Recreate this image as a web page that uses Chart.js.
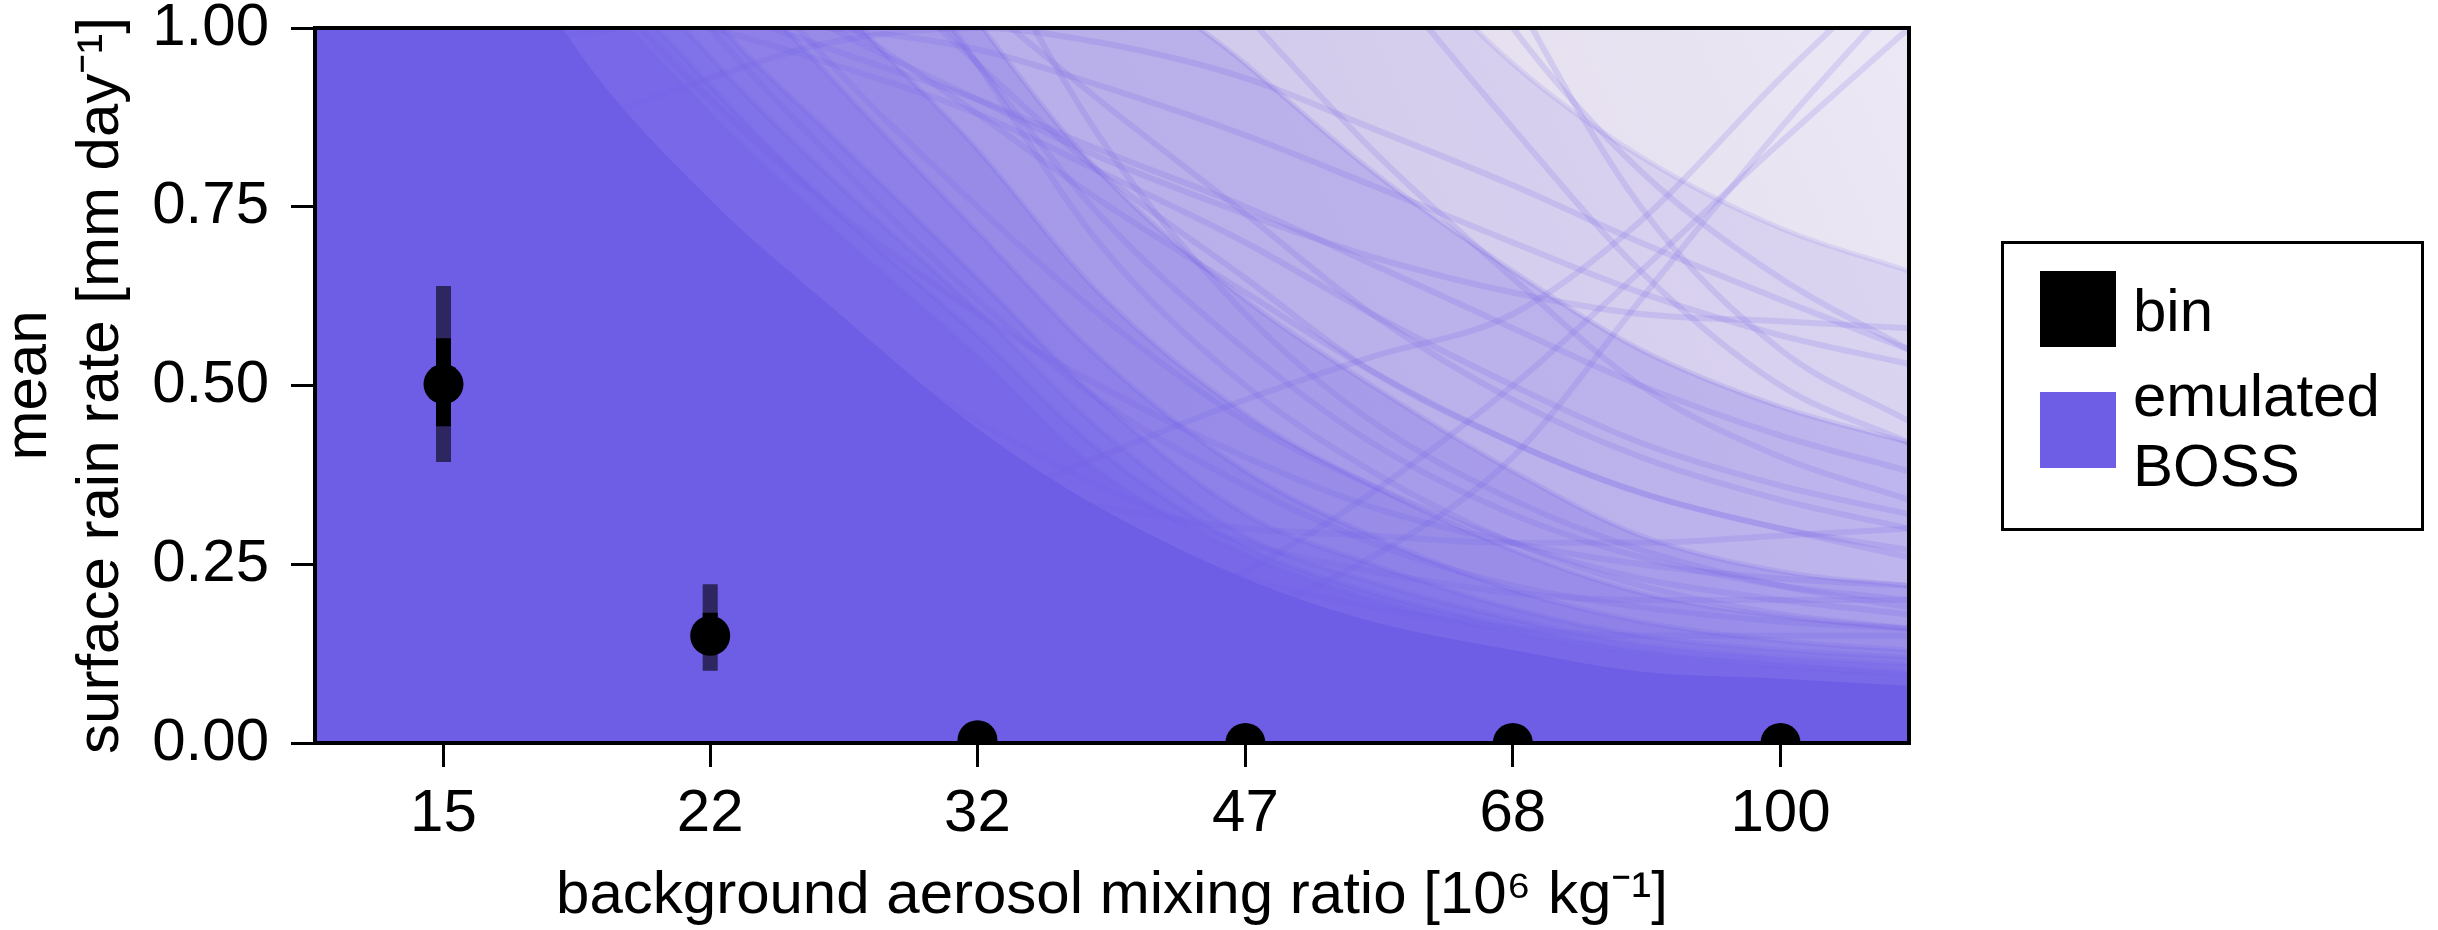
<!DOCTYPE html>
<html>
<head>
<meta charset="utf-8">
<title>Surface rain rate vs background aerosol</title>
<script src="https://cdn.jsdelivr.net/npm/chart.js@4.4.1/dist/chart.umd.min.js"></script>
<style>
  html, body { margin: 0; padding: 0; background: #fff; }
  #wrap { position: relative; width: 2438px; height: 930px; font-family: "Liberation Sans", Arial, Helvetica, sans-serif; }
  #c { position: absolute; left: 0; top: 0; }
  .legend { position: absolute; left: 2001px; top: 241px; width: 423px; height: 290px; box-sizing: border-box; border: 3px solid #000; background: #fff; }
  .sw { position: absolute; width: 76px; height: 76px; }
  .lt { position: absolute; font-size: 60px; line-height: 60px; color: #000; white-space: nowrap; }
</style>
</head>
<body>
<div id="wrap">
  <canvas id="c" width="2438" height="930"></canvas>
  <div class="legend">
    <div class="sw" style="left:36px; top:27px; background:#000;"></div>
    <div class="lt" style="left:129px; top:37px;">bin</div>
    <div class="sw" style="left:36px; top:148px; background:rgb(110,94,230);"></div>
    <div class="lt" style="left:129px; top:122px;">emulated</div>
    <div class="lt" style="left:129px; top:192px;">BOSS</div>
  </div>
</div>
<script>
// ---- binned simulation output ----
const binCentres  = [15, 21.9, 32.0, 46.8, 68.4, 100];
const binLabels   = ['15', '22', '32', '47', '68', '100'];
const binMean     = [0.502, 0.150, 0.004, 0.0, 0.0, 0.0];
const binInnerLo  = [0.443, 0.125, 0.004, 0.0, 0.0, 0.0];
const binInnerHi  = [0.566, 0.182, 0.004, 0.0, 0.0, 0.0];
const binOuterLo  = [0.393, 0.101, 0.004, 0.0, 0.0, 0.0];
const binOuterHi  = [0.639, 0.222, 0.004, 0.0, 0.0, 0.0];
const yTickValues = [0, 0.25, 0.5, 0.75, 1.0];

// ---- emulated BOSS ensemble, sampled on a common aerosol grid ----
const emuX = [12.5, 15, 18, 21.9, 26, 32, 38, 46.8, 56, 68.4, 82, 100, 120];
// region covered by (nearly) every ensemble member
const bossCore = [1.5, 1.3, 0.98, 0.76, 0.61, 0.44, 0.33, 0.23, 0.17, 0.13, 0.10, 0.09, 0.08];
// upper envelopes of the ensemble, from widest to narrowest
const bossBand0 = [2, 2, 2, 2, 2, 1.9, 1.6, 1.35, 1.15, 0.95, 0.82, 0.72, 0.66];
const bossBand1 = [2, 2, 2, 2, 1.7, 1.35, 1.12, 0.95, 0.8, 0.66, 0.55, 0.47, 0.42];
const bossBand2 = [2, 2, 1.8, 1.6, 1.3, 1.01, 0.8, 0.62, 0.5, 0.38, 0.29, 0.24, 0.22];
const bossBand3 = [2, 2, 1.6, 1.3, 1.05, 0.83, 0.63, 0.46, 0.36, 0.27, 0.21, 0.177, 0.16];
const bossBand4 = [2, 1.8, 1.4, 1.12, 0.93, 0.715, 0.54, 0.38, 0.29, 0.214, 0.17, 0.143, 0.13];
const bossBand5 = [1.9, 1.7, 1.3, 1.02, 0.85, 0.65, 0.48, 0.32, 0.25, 0.188, 0.15, 0.13, 0.12];
const bossBand6 = [1.8, 1.6, 1.2, 0.96, 0.79, 0.605, 0.44, 0.289, 0.225, 0.173, 0.138, 0.12, 0.11];
const bossBand7 = [1.7, 1.5, 1.15, 0.92, 0.75, 0.57, 0.41, 0.275, 0.21, 0.163, 0.13, 0.113, 0.10];
const bossBand8 = [1.6, 1.4, 1.1, 0.88, 0.72, 0.54, 0.38, 0.264, 0.2, 0.155, 0.125, 0.107, 0.095];
// individual ensemble members
const bossMember1  = [1.6, 1.45, 1.3, 1.15, 1.02, 0.88, 0.76, 0.63, 0.52, 0.42, 0.35, 0.3, 0.27];
const bossMember2  = [1.8, 1.7, 1.55, 1.38, 1.22, 1.04, 0.9, 0.74, 0.6, 0.48, 0.4, 0.34, 0.3];
const bossMember3  = [2, 2, 2, 1.9, 1.7, 1.45, 1.25, 1.02, 0.83, 0.65, 0.5, 0.4, 0.34];
const bossMember4  = [2, 2, 2, 2, 2, 1.9, 1.65, 1.35, 1.1, 0.86, 0.66, 0.5, 0.42];
const bossMember5  = [2, 2, 2, 2, 2, 2, 2, 1.8, 1.45, 1.05, 0.75, 0.55, 0.45];
const bossMember6  = [1.4, 1.3, 1.2, 1.1, 1.0, 0.9, 0.82, 0.74, 0.68, 0.63, 0.6, 0.59, 0.58];
const bossMember7  = [0.9, 0.95, 0.99, 1.01, 1.0, 0.97, 0.92, 0.85, 0.78, 0.7, 0.63, 0.57, 0.53];
const bossMember8  = [0.05, 0.05, 0.06, 0.07, 0.08, 0.1, 0.13, 0.18, 0.26, 0.4, 0.62, 0.86, 1.06];
const bossMember9  = [0.02, 0.03, 0.04, 0.05, 0.07, 0.1, 0.15, 0.24, 0.35, 0.5, 0.66, 0.84, 1.0];
const bossMember10 = [0.1, 0.12, 0.15, 0.2, 0.26, 0.33, 0.4, 0.48, 0.54, 0.6, 0.73, 0.93, 1.1];
const bossMember11 = [1.3, 1.1, 0.9, 0.72, 0.58, 0.45, 0.36, 0.28, 0.24, 0.21, 0.2, 0.2, 0.2];
const bossMember12 = [1.5, 1.3, 1.1, 0.9, 0.75, 0.6, 0.5, 0.4, 0.33, 0.28, 0.25, 0.23, 0.22];
const bossMember13 = [2, 1.9, 1.6, 1.35, 1.15, 0.95, 0.8, 0.65, 0.52, 0.42, 0.35, 0.3, 0.26];
const bossMember14 = [2, 2, 2, 2, 2, 2, 2, 1.7, 1.3, 1.0, 0.8, 0.65, 0.55];
const bossMember15 = [0.6, 0.55, 0.5, 0.45, 0.4, 0.36, 0.33, 0.3, 0.29, 0.28, 0.28, 0.29, 0.3];
const bossMember16 = [0.7, 0.78, 0.86, 0.93, 0.98, 1.0, 0.98, 0.93, 0.86, 0.78, 0.7, 0.62, 0.55];
const bossMember17 = [1.2, 1.0, 0.8, 0.62, 0.5, 0.38, 0.3, 0.23, 0.19, 0.16, 0.15, 0.15, 0.15];
const bossMember18 = [1.7, 1.5, 1.25, 1.0, 0.82, 0.62, 0.48, 0.36, 0.28, 0.22, 0.19, 0.17, 0.16];
const bossMember19 = [2, 1.9, 1.7, 1.45, 1.2, 0.95, 0.74, 0.55, 0.42, 0.32, 0.26, 0.22, 0.2];
const bossMember20 = [2, 2, 1.5, 1.15, 0.95, 0.75, 0.6, 0.45, 0.36, 0.28, 0.23, 0.2, 0.18];
const bossMember21 = [2, 2, 2, 1.6, 1.25, 0.95, 0.7, 0.5, 0.38, 0.28, 0.22, 0.18, 0.16];
const bossMember22 = [2, 2, 2, 2, 1.6, 1.15, 0.85, 0.6, 0.45, 0.34, 0.27, 0.22, 0.19];
const bossMember23 = [1.25, 1.18, 1.1, 1.03, 0.97, 0.9, 0.83, 0.75, 0.67, 0.58, 0.5, 0.43, 0.38];
const bossMember24 = [1.1, 1.07, 1.04, 1.0, 0.95, 0.88, 0.8, 0.7, 0.6, 0.5, 0.42, 0.36, 0.32];

const FONT = "'Liberation Sans', Arial, Helvetica, sans-serif";
const PURPLE = 'rgb(110,94,230)';
const GRID = 'rgba(60,50,110,0.14)';

const onGrid = ys => emuX.map((x, i) => ({ x: x, y: ys[i] }));

// vertical error segments, separated by gaps
function errorSegments(lo, hi) {
  const pts = [];
  binCentres.forEach((x, i) => {
    pts.push({ x: x, y: lo[i] }, { x: x, y: hi[i] }, { x: x, y: null });
  });
  return pts;
}

const bands = [bossBand1, bossBand2, bossBand3, bossBand4, bossBand5, bossBand6, bossBand7, bossBand8];
const members = [bossMember1, bossMember2, bossMember3, bossMember4, bossMember5, bossMember6, bossMember7,
  bossMember8, bossMember9, bossMember10, bossMember11, bossMember12, bossMember13, bossMember14,
  bossMember15, bossMember16, bossMember17, bossMember18, bossMember19, bossMember20, bossMember21,
  bossMember22, bossMember23, bossMember24];

const datasets = [];
datasets.push({
  type: 'line', data: onGrid(bossBand0), fill: 'origin',
  backgroundColor: 'rgba(110,94,230,0.12)', borderColor: 'rgba(110,94,230,0.12)', borderWidth: 5,
  pointRadius: 0, cubicInterpolationMode: 'monotone', order: 11
});
bands.forEach(b => datasets.push({
  type: 'line', data: onGrid(b), fill: 'origin',
  backgroundColor: 'rgba(110,94,230,0.25)', borderColor: 'rgba(110,94,230,0.16)', borderWidth: 5,
  pointRadius: 0, cubicInterpolationMode: 'monotone', order: 10
}));
datasets.push({
  type: 'line', data: onGrid(bossCore), fill: 'origin',
  backgroundColor: PURPLE, borderWidth: 0, pointRadius: 0,
  cubicInterpolationMode: 'monotone', order: 9
});
members.forEach(m => datasets.push({
  type: 'line', data: onGrid(m), fill: false,
  borderColor: 'rgba(110,94,230,0.17)', borderWidth: 6, pointRadius: 0,
  cubicInterpolationMode: 'monotone', order: 8
}));
datasets.push({
  type: 'line', data: errorSegments(binOuterLo, binOuterHi), spanGaps: false,
  borderColor: 'rgb(45,38,96)', borderWidth: 15, borderCapStyle: 'butt',
  pointRadius: 0, fill: false, tension: 0, order: 3
});
datasets.push({
  type: 'line', data: errorSegments(binInnerLo, binInnerHi), spanGaps: false,
  borderColor: '#000', borderWidth: 15, borderCapStyle: 'butt',
  pointRadius: 0, fill: false, tension: 0, order: 2
});
datasets.push({
  type: 'line', data: binCentres.map((x, i) => ({ x: x, y: binMean[i] })),
  showLine: false, pointRadius: 20, pointBackgroundColor: '#000', pointBorderWidth: 0,
  clip: 0, order: 1
});

// plot-area background and surrounding frame
const framePlugin = {
  id: 'frame',
  beforeDatasetsDraw(chart) {
    const { ctx, chartArea: a } = chart;
    ctx.save();
    const g = ctx.createLinearGradient(a.left, a.bottom, a.right, a.top);
    g.addColorStop(0, 'rgb(220,212,233)');
    g.addColorStop(0.65, 'rgb(226,219,236)');
    g.addColorStop(1, 'rgb(236,232,245)');
    ctx.fillStyle = g;
    ctx.fillRect(a.left, a.top, a.right - a.left, a.bottom - a.top);
    ctx.restore();
  },
  afterDraw(chart) {
    const { ctx, chartArea: a } = chart;
    ctx.save();
    ctx.strokeStyle = '#000';
    ctx.lineWidth = 4;
    ctx.strokeRect(a.left, a.top, a.right - a.left, a.bottom - a.top);
    ctx.restore();
  }
};

new Chart(document.getElementById('c'), {
  type: 'line',
  data: { datasets: datasets },
  plugins: [framePlugin],
  options: {
    responsive: false,
    animation: false,
    events: [],
    devicePixelRatio: 1,
    layout: { padding: { left: 0, top: 28, right: 529, bottom: 0 } },
    plugins: { legend: { display: false }, tooltip: { enabled: false } },
    scales: {
      x: {
        type: 'logarithmic', min: 12.5, max: 120, z: 1,
        afterBuildTicks: ax => { ax.ticks = binCentres.map(v => ({ value: v })); },
        afterFit: s => { s.height = 187; s.paddingLeft = 0; s.paddingRight = 0; },
        ticks: {
          autoSkip: false, maxRotation: 0, minRotation: 0, padding: 11, color: '#000',
          font: { size: 60, family: FONT },
          callback: (v, i) => binLabels[i]
        },
        grid: { color: GRID, lineWidth: 3, drawTicks: true, tickLength: 24, tickWidth: 3, tickColor: '#000' },
        border: { display: true, color: '#000', width: 4 },
        title: {
          display: true, text: 'background aerosol mixing ratio [10⁶ kg⁻¹]', color: '#000',
          font: { size: 60, family: FONT }, padding: { top: 0, bottom: -2 }
        }
      },
      y: {
        type: 'linear', min: 0, max: 1, z: 1,
        afterBuildTicks: ax => { ax.ticks = yTickValues.map(v => ({ value: v })); },
        afterFit: s => { s.width = 315; s.paddingTop = 0; s.paddingBottom = 0; },
        ticks: {
          padding: 22, color: '#000', font: { size: 60, family: FONT },
          callback: v => Number(v).toFixed(2)
        },
        grid: { color: GRID, lineWidth: 3, drawTicks: true, tickLength: 24, tickWidth: 3, tickColor: '#000' },
        border: { display: true, color: '#000', width: 4 },
        title: {
          display: true, text: ['mean', 'surface rain rate [mm day⁻¹]'], color: '#000',
          font: { size: 60, family: FONT }, padding: { top: -7, bottom: 0 }
        }
      }
    }
  }
});
</script>
</body>
</html>
